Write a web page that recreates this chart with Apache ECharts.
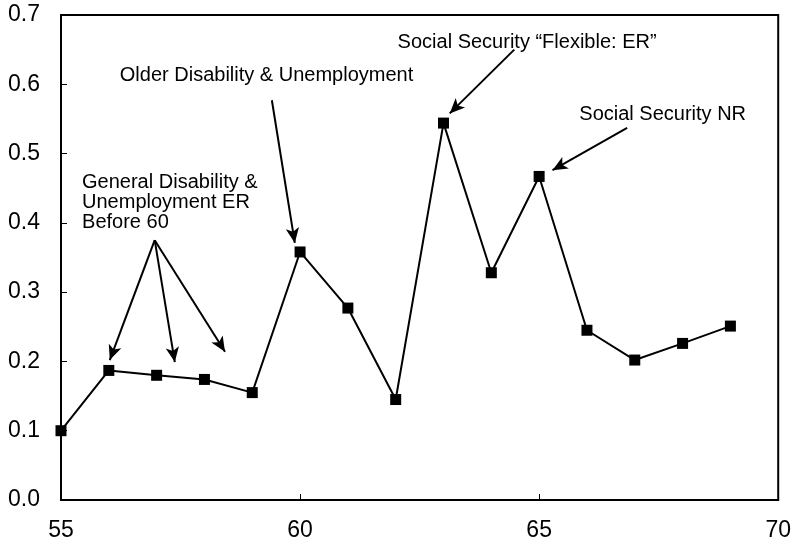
<!DOCTYPE html>
<html><head><meta charset="utf-8">
<script src="https://cdn.jsdelivr.net/npm/echarts@6/dist/echarts.min.js"></script>
<style>html,body{margin:0;padding:0;background:#fff}#c{width:794px;height:547px}</style>
</head><body><div id="c"></div>
<script>
const ages = [55,56,57,58,59,60,61,62,63,64,65,66,67,68,69];
const values = [0.100,0.187,0.180,0.174,0.155,0.358,0.277,0.145,0.544,0.328,0.467,0.245,0.202,0.226,0.251];
const xTicks = [55,60,65,70];
const yTicks = [0,0.1,0.2,0.3,0.4,0.5,0.6,0.7];
// annotation texts and arrows (in data coordinates)
const notes = [
  {text:'Older Disability & Unemployment', at:[56.23,0.613]},
  {text:'General Disability &\nUnemployment ER\nBefore 60', at:[55.44,0.430]},
  {text:'Social Security \u201cFlexible: ER\u201d', at:[62.04,0.661]},
  {text:'Social Security NR', at:[65.84,0.556]}
];
const arrows = [
  [[59.41,0.577],[59.89,0.371]],
  [[56.96,0.375],[56.02,0.202]],
  [[56.96,0.375],[57.38,0.199]],
  [[56.96,0.375],[58.43,0.214]],
  [[64.48,0.650],[63.13,0.558]],
  [[66.84,0.537],[65.28,0.476]]
];
const font = 'Liberation Sans, Arial, sans-serif';
const chart = echarts.init(document.getElementById('c'));
chart.setOption({
  animation:false,
  grid:{left:61,right:15,top:15,bottom:47,show:true,borderColor:'#000',borderWidth:2,backgroundColor:'transparent'},
  xAxis:{type:'value',min:xTicks[0],max:xTicks[xTicks.length-1],interval:5,
    axisLine:{show:true,lineStyle:{color:'#000',width:2}},
    axisTick:{show:true,inside:true,length:6,lineStyle:{color:'#000',width:1}},
    axisLabel:{color:'#000',fontSize:23,fontFamily:font,margin:19},
    splitLine:{show:false}},
  yAxis:{type:'value',min:yTicks[0],max:yTicks[yTicks.length-1],interval:0.1,
    axisLine:{show:true,lineStyle:{color:'#000',width:2}},
    axisTick:{show:true,inside:true,length:6,lineStyle:{color:'#000',width:1}},
    axisLabel:{color:'#000',fontSize:23,fontFamily:font,margin:21,formatter:v=>v.toFixed(1)},
    splitLine:{show:false}},
  series:[{
    type:'line',
    data:ages.map((a,i)=>[a,values[i]]),
    symbol:'rect',symbolSize:11,
    itemStyle:{color:'#000'},
    lineStyle:{color:'#000',width:2},
    markLine:{
      silent:true,
      symbol:['none','arrow'],symbolSize:[10,15],
      label:{show:false},
      lineStyle:{color:'#000',width:2,type:'solid'},
      data:arrows.map(a=>[{coord:a[0]},{coord:a[1]}])
    }
  }]
});
const g = notes.map(n=>{
  const p = chart.convertToPixel({gridIndex:0}, n.at);
  return {type:'text',x:p[0],y:p[1],style:{text:n.text,font:'20px '+font,fill:'#000',textVerticalAlign:'middle',verticalAlign:'middle',lineHeight:20}};
});
chart.setOption({graphic:g});
</script></body></html>
